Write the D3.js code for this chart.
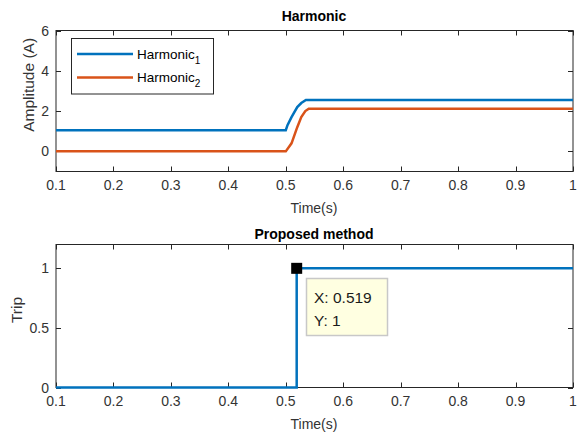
<!DOCTYPE html>
<html>
<head>
<meta charset="utf-8">
<script src="https://cdn.jsdelivr.net/npm/d3@7"></script>
<style>
  body { margin: 0; background: #fff; }
  svg { font-family: "Liberation Sans", Arial, sans-serif; }
</style>
</head>
<body>
<div id="chart"></div>
<script>
// Harmonic amplitudes (A) over time (s)
const h1Time = [0.1, 0.5, 0.503, 0.51, 0.52, 0.527, 0.535, 1];
const h1Amp  = [1.05, 1.05, 1.3, 1.7, 2.2, 2.4, 2.55, 2.55];
const h2Time = [0.1, 0.5, 0.51, 0.52, 0.527, 0.534, 0.54, 1];
const h2Amp  = [0, 0, 0.4, 1.2, 1.7, 2.0, 2.12, 2.12];

// Trip signal
const tripTime = [0.1, 0.519, 0.519, 1];
const tripVal  = [0, 0, 1, 1];

const xTicks = [0.1, 0.2, 0.3, 0.4, 0.5, 0.6, 0.7, 0.8, 0.9, 1];
const ampTicks = [0, 2, 4, 6];
const tripTicks = [0, 0.5, 1];
const legendLabels = ['Harmonic', 'Harmonic'];
const legendSubs = ['1', '2'];
const tipPoint = { x: 0.519, y: 1 };

const W = 579, H = 432;
const BLUE = '#0072bd', ORANGE = '#d95319', TXT = '#333', AX = '#262626';
const FS = 14;

const svg = d3.select('#chart').append('svg')
  .attr('width', W).attr('height', H);

// Draw a MATLAB-like boxed axes
function drawAxes(g, x, y, yTicks, yFmt) {
  const [x0, x1] = x.range();
  const [y0, y1] = y.range(); // y0 bottom, y1 top
  const tl = 5;
  const axes = g.append('g');

  axes.append('rect')
    .attr('x', x0).attr('y', y1)
    .attr('width', x1 - x0).attr('height', y0 - y1)
    .attr('fill', '#fff').attr('stroke', AX).attr('stroke-width', 1);

  // inner ticks
  xTicks.forEach(t => {
    const px = Math.round(x(t)) + 0.5;
    axes.append('line').attr('x1', px).attr('x2', px).attr('y1', y0).attr('y2', y0 - tl).attr('stroke', AX);
    axes.append('line').attr('x1', px).attr('x2', px).attr('y1', y1).attr('y2', y1 + tl).attr('stroke', AX);
    axes.append('text').attr('x', x(t)).attr('y', y0 + 18)
      .attr('text-anchor', 'middle').attr('font-size', FS).attr('fill', TXT)
      .text(t);
  });
  yTicks.forEach(t => {
    const py = Math.round(y(t)) + 0.5;
    axes.append('line').attr('x1', x0).attr('x2', x0 + tl).attr('y1', py).attr('y2', py).attr('stroke', AX);
    axes.append('line').attr('x1', x1).attr('x2', x1 - tl).attr('y1', py).attr('y2', py).attr('stroke', AX);
    axes.append('text').attr('x', x0 - 7).attr('y', y(t) + 5)
      .attr('text-anchor', 'end').attr('font-size', FS).attr('fill', TXT)
      .text(yFmt(t));
  });
  return axes;
}

// ---------- Top plot ----------
const xTop = d3.scaleLinear().domain([0.1, 1]).range([56, 573]);
const yTop = d3.scaleLinear().domain([-1, 6]).range([171.5, 30.5]);
const gTop = svg.append('g');
drawAxes(gTop, xTop, yTop, ampTicks, d => d);

const lineTop = d3.line().x(d => xTop(d[0])).y(d => yTop(d[1]));
gTop.append('path')
  .datum(d3.zip(h2Time, h2Amp))
  .attr('d', lineTop).attr('fill', 'none')
  .attr('stroke', ORANGE).attr('stroke-width', 2.5);
gTop.append('path')
  .datum(d3.zip(h1Time, h1Amp))
  .attr('d', lineTop).attr('fill', 'none')
  .attr('stroke', BLUE).attr('stroke-width', 2.5);

gTop.append('text').attr('x', 314).attr('y', 21)
  .attr('text-anchor', 'middle').attr('font-size', 14).attr('font-weight', 'bold')
  .attr('fill', '#000').text('Harmonic');
gTop.append('text').attr('x', 314).attr('y', 213)
  .attr('text-anchor', 'middle').attr('font-size', FS).attr('fill', TXT).text('Time(s)');
gTop.append('text')
  .attr('transform', 'translate(34,' + (yTop(3.3)) + ') rotate(-90)')
  .attr('text-anchor', 'middle').attr('font-size', 15.5).attr('fill', TXT).text('Amplitude (A)');

// legend
const leg = gTop.append('g');
leg.append('rect').attr('x', 71.5).attr('y', 38.5).attr('width', 142).attr('height', 55.5)
  .attr('fill', '#fff').attr('stroke', AX).attr('stroke-width', 1);
[BLUE, ORANGE].forEach((c, i) => {
  const ly = 54 + i * 23.5;
  leg.append('line').attr('x1', 77).attr('x2', 133).attr('y1', ly).attr('y2', ly)
    .attr('stroke', c).attr('stroke-width', 2.5);
  const t = leg.append('text').attr('x', 137).attr('y', ly + 4.5)
    .attr('font-size', 13.5).attr('fill', '#000');
  t.append('tspan').text(legendLabels[i]);
  t.append('tspan').attr('dy', 5).attr('font-size', 10).text(legendSubs[i]);
});

// ---------- Bottom plot ----------
const xBot = d3.scaleLinear().domain([0.1, 1]).range([56, 573]);
const yBot = d3.scaleLinear().domain([0, 1.2]).range([387.5, 244.5]);
const gBot = svg.append('g');
drawAxes(gBot, xBot, yBot, tripTicks, d => d);

gBot.append('path')
  .datum(d3.zip(tripTime, tripVal))
  .attr('d', d3.line().x(d => xBot(d[0])).y(d => yBot(d[1])))
  .attr('fill', 'none').attr('stroke', BLUE).attr('stroke-width', 2.5);

gBot.append('text').attr('x', 314).attr('y', 239)
  .attr('text-anchor', 'middle').attr('font-size', 14).attr('font-weight', 'bold')
  .attr('fill', '#000').text('Proposed method');
gBot.append('text').attr('x', 314).attr('y', 429)
  .attr('text-anchor', 'middle').attr('font-size', FS).attr('fill', TXT).text('Time(s)');
gBot.append('text')
  .attr('transform', 'translate(22,' + yBot(0.65) + ') rotate(-90)')
  .attr('text-anchor', 'middle').attr('font-size', 15.5).attr('fill', TXT).text('Trip');

// data tip
const tx = xBot(tipPoint.x), ty = yBot(tipPoint.y);
gBot.append('rect').attr('x', tx - 5.5).attr('y', ty - 5.5).attr('width', 11).attr('height', 11)
  .attr('fill', '#000');
const tip = gBot.append('g');
tip.append('rect').attr('x', 306.5).attr('y', 278.5).attr('width', 81).attr('height', 57)
  .attr('fill', '#ffffe1').attr('stroke', '#c8c8c8').attr('stroke-width', 1.5);
tip.append('text').attr('x', 314).attr('y', 303).attr('font-size', 15.5).attr('fill', '#1a1a1a')
  .text('X: ' + tipPoint.x);
tip.append('text').attr('x', 314).attr('y', 326).attr('font-size', 15.5).attr('fill', '#1a1a1a')
  .text('Y: ' + tipPoint.y);
</script>
</body>
</html>
